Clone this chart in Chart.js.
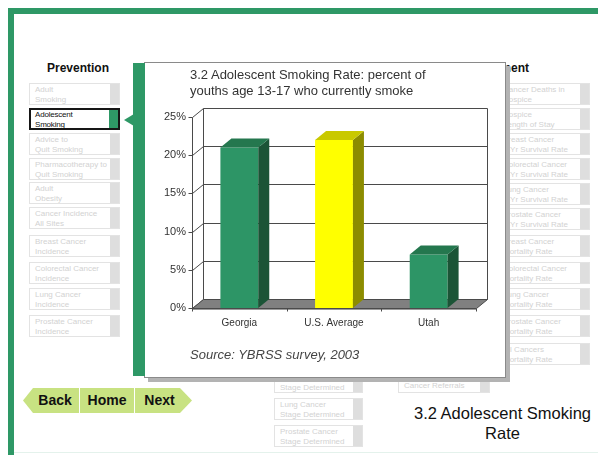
<!DOCTYPE html>
<html>
<head>
<meta charset="utf-8">
<script src="https://cdn.jsdelivr.net/npm/chart.js@4.4.3/dist/chart.umd.min.js"></script>
<style>
  body { margin: 0; background: #fff; font-family: "Liberation Sans", Arial, sans-serif; }
  #page { position: relative; width: 598px; height: 455px; overflow: hidden; background: #fff; }
  .frame-top { position: absolute; left: 8px; top: 8px; width: 590px; height: 6px; background: #2e9866; }
  .frame-left { position: absolute; left: 8px; top: 8px; width: 6px; height: 447px; background: #2e9866; }
  .frame-bottom { position: absolute; left: 14px; top: 452px; width: 584px; height: 1px; background: #e4f2ec; }
  .head { position: absolute; top: 61px; font-weight: bold; font-size: 12px; color: #111; }
  .item { position: absolute; height: 22px; box-sizing: border-box; border: 1px solid #e3e3e3; background: #fff;
          font-size: 8px; line-height: 10px; color: #d2d2d2; padding: 1px 12px 0 5px; overflow: hidden; white-space: nowrap; }
  .item::after { content: ''; position: absolute; right: 0; top: 0; bottom: 0; width: 9px; background: #dedede; }
  .item.sel { border: 2px solid #161616; color: #111; padding: 0 12px 0 4px; letter-spacing: -0.2px; }
  .item.sel::after { background: #2e9866; }
  .item.one { padding-top: 9px; }
  .stripe { position: absolute; left: 133px; top: 63px; width: 12px; height: 313px; background: #2e9866; z-index: 3; }
  .pointer { position: absolute; left: 124px; top: 114px; width: 0; height: 0; border-top: 6px solid transparent;
             border-bottom: 6px solid transparent; border-right: 10px solid #2e9866; z-index: 3; }
  .popup { position: absolute; left: 144px; top: 62px; width: 362px; height: 316px; box-sizing: border-box;
           border: 1px solid #8a8a8a; background: #fff; box-shadow: 4px 4px 0 #b3b3b3; z-index: 3; }
  #chart { position: absolute; left: 145px; top: 63px; z-index: 4; }
  .ctitle { position: absolute; left: 190px; top: 67px; font-size: 13px; line-height: 16px; color: #333; z-index: 5; }
  .source { position: absolute; left: 190px; top: 347px; font-size: 13px; line-height: 16px; font-style: italic; color: #444; z-index: 5; }
  .btn { position: absolute; top: 388px; height: 25px; background: #c8e282; font-weight: bold; font-size: 14px;
         line-height: 25px; color: #111; text-align: center; box-sizing: border-box; }
  .btn.back { left: 23px; width: 56px; padding-left: 8px; clip-path: polygon(10px 0, 100% 0, 100% 100%, 10px 100%, 0 50%); }
  .btn.home { left: 80px; width: 54px; }
  .btn.next { left: 135px; width: 57px; padding-right: 8px; clip-path: polygon(0 0, calc(100% - 12px) 0, 100% 50%, calc(100% - 12px) 100%, 0 100%); }
  .pagetitle { position: absolute; left: 400px; top: 403px; width: 205px; text-align: center; font-size: 16.5px;
               line-height: 20px; color: #111; }
</style>
</head>
<body>
<div id="page">
  <div class="frame-top"></div>
  <div class="frame-left"></div>
  <div class="frame-bottom"></div>
  <div class="head" style="left:47px">Prevention</div>
  <div class="head" style="right:69px">Treatment</div>
  <div id="menus"></div>
  <div class="popup"></div>
  <div class="stripe"></div>
  <div class="pointer"></div>
  <canvas id="chart" width="360" height="314"></canvas>
  <div class="ctitle">3.2 Adolescent Smoking Rate: percent of<br>youths age 13-17 who currently smoke</div>
  <div class="source">Source: YBRSS survey, 2003</div>
  <div class="btn back">Back</div>
  <div class="btn home">Home</div>
  <div class="btn next">Next</div>
  <div class="pagetitle">3.2 Adolescent Smoking<br>Rate</div>
</div>
<script>
// chart data
const categories = ['Georgia', 'U.S. Average', 'Utah'];
const smokingRate = [21, 22, 7];
const yTicks = [0, 5, 10, 15, 20, 25];

// side menus (faded page behind the popup)
const leftMenu = ['Adult|Smoking', 'Adolescent|Smoking', 'Advice to|Quit Smoking', 'Pharmacotherapy to|Quit Smoking',
  'Adult|Obesity', 'Cancer Incidence|All Sites', 'Breast Cancer|Incidence', 'Colorectal Cancer|Incidence',
  'Lung Cancer|Incidence', 'Prostate Cancer|Incidence'];
const leftTops = [83, 108, 133, 158, 182, 207, 235, 262, 288, 315];
const rightMenu = ['Cancer Deaths in|Hospice', 'Hospice|Length of Stay', 'Breast Cancer|5-Yr Survival Rate',
  'Colorectal Cancer|5-Yr Survival Rate', 'Lung Cancer|5-Yr Survival Rate', 'Prostate Cancer|5-Yr Survival Rate',
  'Breast Cancer|Mortality Rate', 'Colorectal Cancer|Mortality Rate', 'Lung Cancer|Mortality Rate',
  'Prostate Cancer|Mortality Rate', 'All Cancers|Mortality Rate'];
const rightTops = [83, 108, 133, 158, 183, 208, 235, 262, 288, 315, 343];
const midMenu = ['Colorectal Cancer|Stage Determined', 'Lung Cancer|Stage Determined', 'Prostate Cancer|Stage Determined'];
const midTops = [371, 398, 425];

function addItem(text, left, top, width, extra) {
  const d = document.createElement('div');
  d.className = 'item' + (extra ? ' ' + extra : '');
  d.style.left = left + 'px';
  d.style.top = top + 'px';
  d.style.width = width + 'px';
  d.innerHTML = text.split('|').join('<br>');
  document.getElementById('menus').appendChild(d);
}
leftMenu.forEach((t, i) => addItem(t, 29, leftTops[i], 91, i === 1 ? 'sel' : ''));
rightMenu.forEach((t, i) => addItem(t, 497, rightTops[i], 93));
midMenu.forEach((t, i) => addItem(t, 274, midTops[i], 89));
addItem('Cancer Referrals', 398, 371, 92, 'one');

// 3D look: back wall, side wall, floor, bar sides and tops
const DEPTH = { dx: 11, dy: -9 };

function poly(ctx, pts, fill, stroke) {
  ctx.beginPath();
  pts.forEach((p, i) => i ? ctx.lineTo(p[0], p[1]) : ctx.moveTo(p[0], p[1]));
  ctx.closePath();
  if (fill) { ctx.fillStyle = fill; ctx.fill(); }
  if (stroke) { ctx.strokeStyle = stroke; ctx.stroke(); }
}

const box3d = {
  id: 'box3d',
  beforeDatasetsDraw(chart) {
    const { ctx, chartArea: a, scales: { x, y } } = chart;
    const { dx, dy } = DEPTH;
    const L = Math.round(a.left) + 0.5, R = Math.round(a.right) + 0.5;
    const bot = Math.round(y.getPixelForValue(0)) + 0.5;
    const top = Math.round(y.getPixelForValue(yTicks[yTicks.length - 1])) + 0.5;
    ctx.save();
    ctx.lineWidth = 1;
    ctx.strokeStyle = '#4a4a4a';
    y.ticks.forEach(t => {
      const py = Math.round(y.getPixelForValue(t.value)) + 0.5;
      ctx.beginPath();
      ctx.moveTo(L - 4, py);
      ctx.lineTo(L, py);
      ctx.lineTo(L + dx, py + dy);
      ctx.lineTo(R + dx, py + dy);
      ctx.stroke();
    });
    ctx.beginPath();
    ctx.moveTo(L, bot); ctx.lineTo(L, top);
    ctx.moveTo(L + dx, bot + dy); ctx.lineTo(L + dx, top + dy);
    ctx.moveTo(R + dx, bot + dy); ctx.lineTo(R + dx, top + dy);
    ctx.stroke();
    // floor
    poly(ctx, [[L, bot], [R, bot], [R + dx, bot + dy], [L + dx, bot + dy]], '#808080', '#4a4a4a');
    ctx.beginPath();
    ctx.moveTo(L, bot + 1); ctx.lineTo(R, bot + 1);
    ctx.strokeStyle = '#9a9a9a';
    ctx.stroke();
    // category boundary ticks
    ctx.strokeStyle = '#4a4a4a';
    const step = (a.right - a.left) / categories.length;
    for (let i = 0; i <= categories.length; i++) {
      const px = Math.round(x.getPixelForValue(0) - step / 2 + i * step) + 0.5;
      ctx.beginPath();
      ctx.moveTo(px, bot);
      ctx.lineTo(px, bot + 3);
      ctx.stroke();
    }
    ctx.restore();
  },
  afterDatasetsDraw(chart) {
    const { ctx } = chart;
    const { dx, dy } = DEPTH;
    const ds = chart.data.datasets[0];
    chart.getDatasetMeta(0).data.forEach((bar, i) => {
      const { x, y, base, width } = bar.getProps(['x', 'y', 'base', 'width'], true);
      const l = x - width / 2, r = x + width / 2;
      const shade = ds.shade[i];
      ctx.save();
      poly(ctx, [[r, y], [r + dx, y + dy], [r + dx, base + dy], [r, base]], shade.side);
      poly(ctx, [[l, y], [r, y], [r + dx, y + dy], [l + dx, y + dy]], shade.top);
      ctx.restore();
    });
  }
};

const green = { front: '#2d9566', side: '#1b5436', top: '#24774e' };
const yellow = { front: '#ffff00', side: '#8c8c00', top: '#c9c900' };
const barShades = [green, yellow, green];

new Chart(document.getElementById('chart'), {
  type: 'bar',
  data: {
    labels: categories,
    datasets: [{
      data: smokingRate,
      backgroundColor: barShades.map(s => s.front),
      shade: barShades,
      borderWidth: 0,
      categoryPercentage: 1,
      barPercentage: 0.4
    }]
  },
  options: {
    responsive: false,
    animation: false,
    events: [],
    layout: { padding: { left: 17, right: 29, top: 54, bottom: 49 } },
    plugins: { legend: { display: false }, tooltip: { enabled: false }, title: { display: false } },
    scales: {
      x: {
        grid: { display: false, drawTicks: false },
        border: { display: false },
        ticks: { color: '#333', font: { family: 'Liberation Sans', size: 10 }, padding: 9 },
        afterFit: s => { s.height = 20; }
      },
      y: {
        min: 0,
        max: 25,
        afterBuildTicks: s => { s.ticks = yTicks.map(v => ({ value: v })); },
        grid: { display: false, drawTicks: false },
        border: { display: false },
        ticks: { color: '#333', font: { family: 'Liberation Sans', size: 11 }, padding: 6, callback: v => v + '%' },
        afterFit: s => { s.width = 30; }
      }
    }
  },
  plugins: [box3d]
});
</script>
</body>
</html>
